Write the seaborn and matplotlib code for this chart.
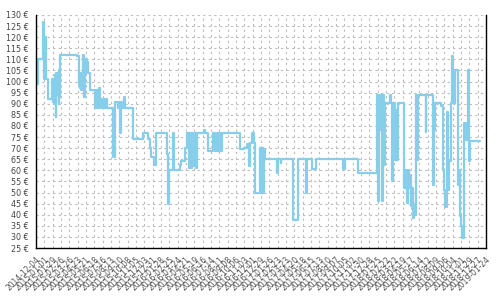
import numpy as np
import pandas as pd
import matplotlib
matplotlib.use("Agg")
import matplotlib.pyplot as plt
import matplotlib.dates as mdates
import seaborn as sns

start_date = "2014-12-04"
day_offsets = [5, 8, 25, 27, 29, 34, 41, 53, 57, 59, 62, 64, 66, 67, 71, 72, 76, 77, 81, 82,
               137, 143, 144, 146, 148, 150, 151, 155, 158, 160, 162, 165, 168, 170, 173, 175, 180,
               198, 200, 203, 205, 208, 212, 215, 217, 223, 227, 232, 235, 239,
               258, 264, 267, 276, 279, 282, 285, 292, 296, 298,
               327, 361, 377, 383, 388, 395, 402, 439, 445, 448, 459, 464, 484, 487, 501, 506,
               514, 517, 521, 524, 528, 533, 536, 541, 566, 568, 579, 596, 601, 607, 612, 617, 622,
               625, 645, 659, 685, 699, 708, 716, 719, 725, 731, 736, 753, 756, 759, 763, 766, 769,
               811, 813, 822, 824, 864, 880, 906, 910, 928, 941, 1032, 1038, 1082,
               1146, 1149, 1152, 1156, 1159, 1163, 1166, 1169, 1173, 1189, 1194, 1196, 1200, 1201,
               1205, 1208, 1211, 1215, 1216, 1236, 1242, 1247, 1250, 1253, 1257, 1260, 1263, 1267,
               1270, 1274, 1276, 1277, 1281, 1284, 1309, 1312, 1334, 1337, 1341, 1362, 1368, 1371,
               1374, 1381, 1384, 1388, 1394, 1399, 1401, 1408, 1418, 1423, 1426, 1429, 1432, 1439,
               1445, 1450, 1455, 1458, 1492]
prices = [99, 110, 127, 101, 120, 101, 92, 101, 91, 100, 90, 103, 84, 104, 94, 104, 90, 105, 93, 112,
          111.5, 104, 99, 104, 97, 104, 96, 104, 112, 104, 93, 105, 110, 104, 109, 104, 96,
          88, 96, 88, 96, 88, 97, 88, 92, 88, 92, 88, 92, 88,
          66, 88, 91, 88, 91, 77, 91, 88, 93, 88,
          74, 77, 74, 70, 66, 62.5, 77, 67.5, 45, 60, 77, 60, 62.5, 64.3, 70, 77,
          61, 77, 61, 77, 62, 77, 61, 77, 78, 77, 68.5, 77, 68.5, 77, 68.5, 77, 68.5,
          76.7, 77, 76.7, 69.5, 70, 72, 62, 72.5, 76.7, 72.5, 50, 70, 50, 70, 50, 69.6, 65.2,
          59, 65.2, 63.3, 65.2, 37.4, 65.2, 50, 65.2, 60.5, 65.2, 60.5, 65.2, 58.6,
          94, 46, 94, 78, 94, 46, 94, 62.5, 90.3, 94, 90.3, 55, 67, 90.3,
          64.7, 87.2, 64.7, 87.2, 90.3, 52, 60, 45.4, 60.2, 52, 58, 44, 52, 38.6,
          45, 40, 64.7, 94, 64.7, 94, 77.5, 94, 53.5, 78, 90.3, 89, 60, 51,
          43.7, 86.5, 51, 64, 90.3, 111.3, 90.3, 105.2, 53.5, 60, 39.2, 34.7, 29.6, 81.3,
          73.7, 105.2, 64, 73.3, 73.3]
y_ticks = list(range(25, 131, 5))
tick_step_days = 28
n_ticks = 55

start = pd.Timestamp(start_date)
df = pd.DataFrame({"date": start + pd.to_timedelta(day_offsets, unit="D"), "price": prices})

sns.set_style("white")
plt.rcParams['font.family'] = ['DejaVu Sans']

fig = plt.figure(figsize=(5, 3), dpi=100)
ax = fig.add_axes([0.072, 0.1733, 0.9, 0.7767])

sns.lineplot(data=df, x="date", y="price", ax=ax, estimator=None, sort=False,
             color="#87CEEB", linewidth=1.6, drawstyle="steps-post")

xticks = pd.date_range(start, periods=n_ticks, freq=f"{tick_step_days}D")
ax.set_xlim(xticks[0], xticks[-1])
ax.set_ylim(25, 130)
ax.set_xticks(xticks)
ax.set_xticklabels([d.strftime("%Y-%m-%d") for d in xticks], rotation=45, ha="right",
                   rotation_mode="anchor", fontsize=5.5, color="#555555")
ax.set_yticks(y_ticks)
ax.set_yticklabels([f"{v} €" for v in y_ticks], fontsize=5.8, color="#444444")
ax.set_xlabel("")
ax.set_ylabel("")

ax.grid(True, color="#bbbbbb", linestyle=(0, (2, 3)), linewidth=0.8)
ax.set_axisbelow(True)
ax.tick_params(axis="both", direction="inout", length=6, width=1, color="black", pad=2)
for side in ["left", "bottom", "right"]:
    ax.spines[side].set_visible(True)
    ax.spines[side].set_color("black")
    ax.spines[side].set_linewidth(1)
ax.spines["top"].set_visible(False)

fig.savefig("out.png", dpi=100)
